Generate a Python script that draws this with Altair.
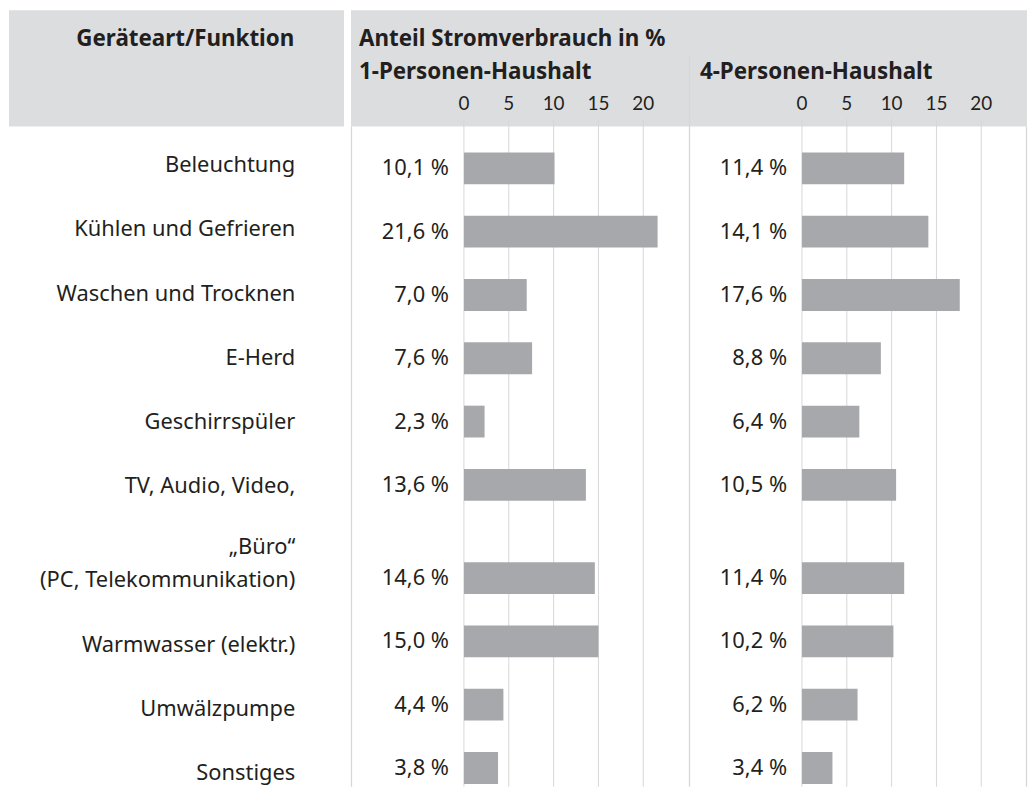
import altair as alt
import pandas as pd

# ---------------- data ----------------
categories = [
    "Beleuchtung",
    "Kühlen und Gefrieren",
    "Waschen und Trocknen",
    "E-Herd",
    "Geschirrspüler",
    "TV, Audio, Video,",
    "„Büro“\n(PC, Telekommunikation)",
    "Warmwasser (elektr.)",
    "Umwälzpumpe",
    "Sonstiges",
]
share_1p = [10.1, 21.6, 7.0, 7.6, 2.3, 13.6, 14.6, 15.0, 4.4, 3.8]
share_4p = [11.4, 14.1, 17.6, 8.8, 6.4, 10.5, 11.4, 10.2, 6.2, 3.4]
ticks = [0, 5, 10, 15, 20]
col_title = "Geräteart/Funktion"
main_title = "Anteil Stromverbrauch in %"
panel_titles = ["1-Personen-Haushalt", "4-Personen-Haushalt"]

# ---------------- styling ----------------
FONT = "Noto Sans"
TICKFONT = "Lato"
FS = 22
HFS = 22.5
TXT = "#231f20"
BAR = "#a7a8ab"
HEAD = "#dcdddf"
GRID = "#d7d7d7"
H = 781
HEAD_H = 117
EXTRA_LINE = 0.473  # extra row height per additional label line

# row slots derived from the labels (multi-line labels get taller rows)
slots, s = [], 0.0
for i, c in enumerate(categories):
    n = c.count("\n") + 1
    if i > 0:
        s += 1 + EXTRA_LINE * (n - 1)
    slots.append(s)

def fmt(v):
    return f"{v:.1f}".replace(".", ",") + " %"

rows = pd.DataFrame({
    "cat": categories,
    "slot": slots,
    "main": [c.split("\n")[-1] for c in categories],
    "top": [c.split("\n")[0] if "\n" in c else "" for c in categories],
    "v1": share_1p,
    "v2": share_4p,
    "l1": [fmt(v) for v in share_1p],
    "l2": [fmt(v) for v in share_4p],
})
tick_df = pd.DataFrame({"t": ticks, "tl": [str(t) for t in ticks]})
one = pd.DataFrame({"k": [0]})

yscale = alt.Scale(domain=[-2.419, 9.690], reverse=True, nice=False, zero=False)
xscale = alt.Scale(domain=[-12.6, 25.1], nice=False, zero=False)

# ---------------- label column ----------------
LW = 345
left_bg = alt.Chart(one).mark_rect(color=HEAD).encode(
    x=alt.value(1), x2=alt.value(338), y=alt.value(0), y2=alt.value(HEAD_H))
left_head = alt.Chart(one).mark_text(
    text=col_title, font=FONT, fontSize=HFS, fontWeight="bold", color=TXT,
    align="right", baseline="middle").encode(x=alt.value(288), y=alt.value(29))
lab_main = alt.Chart(rows).mark_text(
    font=FONT, fontSize=FS, color=TXT, align="right", baseline="middle").encode(
    x=alt.value(289), y=alt.Y("slot:Q", scale=yscale, axis=None), text="main:N")
lab_top = alt.Chart(rows).mark_text(
    font=FONT, fontSize=FS, color=TXT, align="right", baseline="middle", dy=-34).encode(
    x=alt.value(289), y=alt.Y("slot:Q", scale=yscale, axis=None), text="top:N")
left = alt.layer(left_bg, left_head, lab_main, lab_top).properties(width=LW, height=H)

# ---------------- panels ----------------
PW = 340

def panel(idx):
    vf, lf = ("v1", "l1") if idx == 0 else ("v2", "l2")
    layers = []
    layers.append(alt.Chart(one).mark_rect(color=HEAD).encode(
        x=alt.value(0), x2=alt.value(PW), y=alt.value(0), y2=alt.value(HEAD_H)))
    if idx == 0:
        layers.append(alt.Chart(one).mark_text(
            text=main_title, font=FONT, fontSize=HFS, fontWeight="bold", color=TXT,
            align="left", baseline="middle").encode(x=alt.value(8), y=alt.value(29)))
    layers.append(alt.Chart(one).mark_text(
        text=panel_titles[idx], font=FONT, fontSize=HFS, fontWeight="bold", color=TXT,
        align="left", baseline="middle").encode(
        x=alt.value(8 if idx == 0 else 11), y=alt.value(62)))
    # left border line
    layers.append(alt.Chart(one).mark_rule(color=GRID, strokeWidth=1.3).encode(
        x=alt.value(0.5), y=alt.value(HEAD_H if idx == 0 else 45), y2=alt.value(H)))
    if idx == 1:
        layers.append(alt.Chart(one).mark_rule(color=GRID, strokeWidth=1.3).encode(
            x=alt.value(PW - 0.5), y=alt.value(HEAD_H), y2=alt.value(H)))
    # gridlines & tick labels
    layers.append(alt.Chart(tick_df).mark_rule(color=GRID, strokeWidth=1).encode(
        x=alt.X("t:Q", scale=xscale, axis=None), y=alt.value(109), y2=alt.value(H)))
    layers.append(alt.Chart(tick_df).mark_text(
        font=TICKFONT, fontSize=19, color=TXT, baseline="middle").encode(
        x=alt.X("t:Q", scale=xscale, axis=None), y=alt.value(94), text="tl:N"))
    # bars
    layers.append(alt.Chart(rows).mark_bar(orient="horizontal", size=32, color=BAR).encode(
        x=alt.X(f"{vf}:Q", scale=xscale, axis=None),
        y=alt.Y("slot:Q", scale=yscale, axis=None)))
    # value labels
    layers.append(alt.Chart(rows).mark_text(
        font=FONT, fontSize=FS, color=TXT, align="right", baseline="middle", dx=-15).encode(
        x=alt.datum(0, scale=xscale),
        y=alt.Y("slot:Q", scale=yscale, axis=None), text=f"{lf}:N"))
    return alt.layer(*layers).properties(width=PW, height=H)

chart = alt.hconcat(left, panel(0), panel(1), spacing=0, bounds="flush").properties(
    padding=0, background="white").configure_view(stroke=None)

chart.save("out.html", embed_options={"renderer": "svg", "actions": False})
